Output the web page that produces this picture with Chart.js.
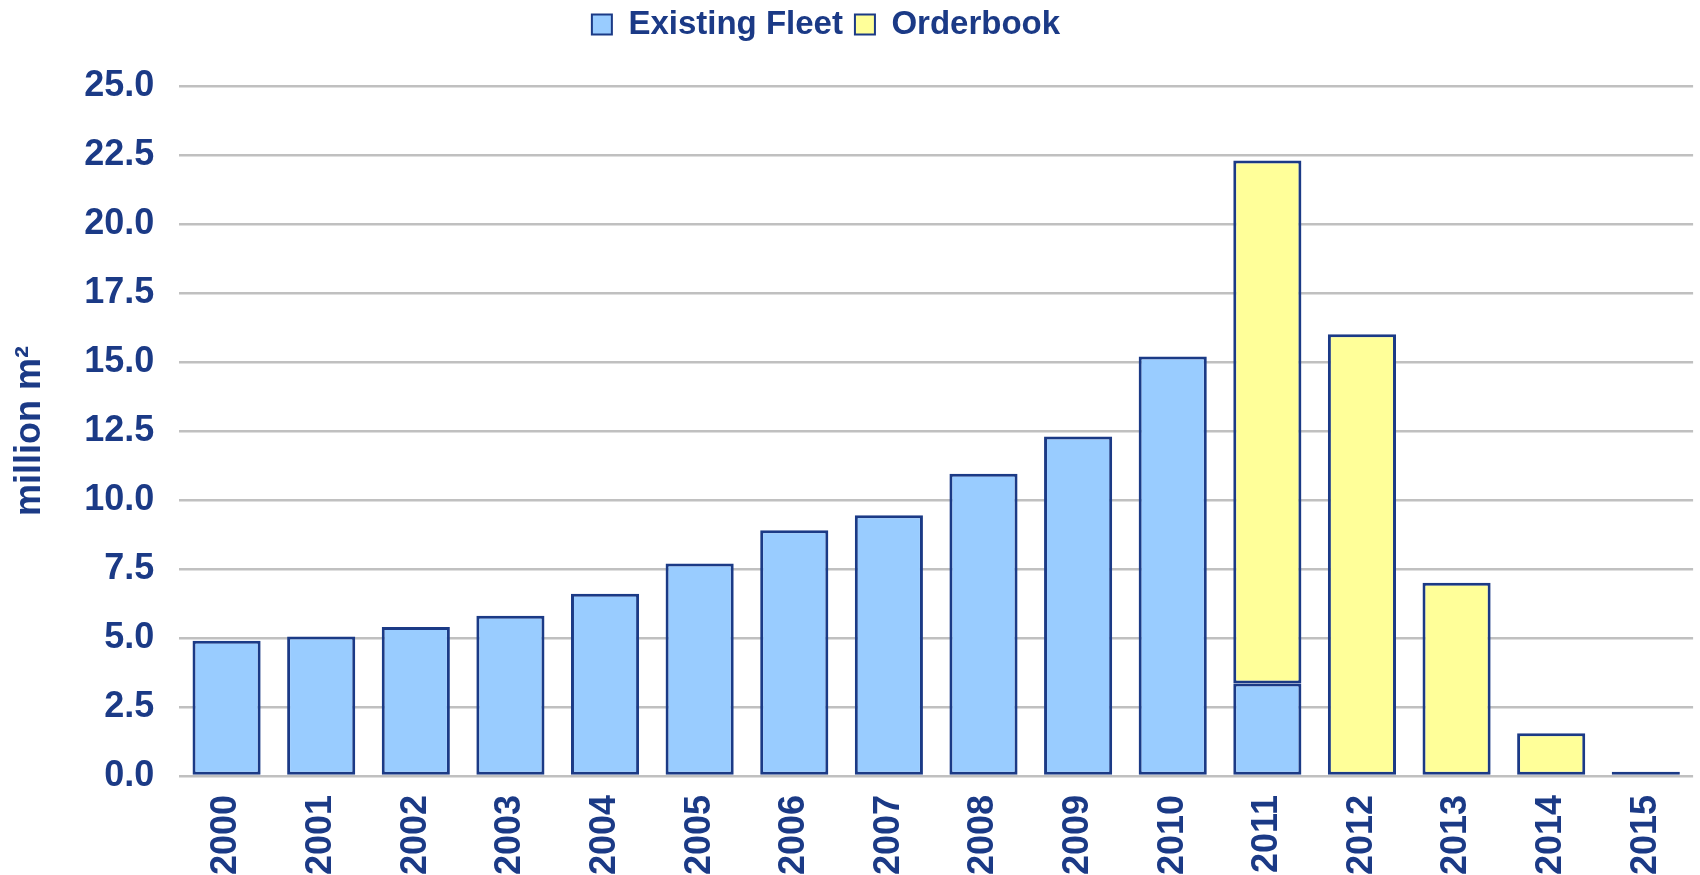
<!DOCTYPE html>
<html>
<head>
<meta charset="utf-8">
<script src="https://cdn.jsdelivr.net/npm/chart.js@4/dist/chart.umd.min.js"></script>
<style>
  html, body { margin: 0; padding: 0; background: #fff; }
  #wrap { width: 1700px; height: 875px; }
</style>
</head>
<body>
<div id="wrap"><canvas id="fleetChart"></canvas></div>
<script>
const years = ["2000", "2001", "2002", "2003", "2004", "2005", "2006", "2007",
  "2008", "2009", "2010", "2011", "2012", "2013", "2014", "2015"];
const existingFleet = [4.9, 5.05, 5.4, 5.8, 6.6, 7.7, 8.9, 9.45, 10.95, 12.3, 15.2, 3.35, 0, 0, 0, 0];
const orderbook = [0, 0, 0, 0, 0, 0, 0, 0, 0, 0, 0, 18.95, 16.0, 7.0, 1.55, 0.15];
const yTicks = [0, 2.5, 5, 7.5, 10, 12.5, 15, 17.5, 20, 22.5, 25];

const navy = "#1b3a86";
const family = "'Liberation Sans', Arial, sans-serif";
const axisFont = { family: family, weight: "bold", size: 36 };
const legendFont = { family: family, weight: "bold", size: 33 };

// push the plot area down below the legend, and nudge the legend up/left
const legendTweak = {
  id: "legendTweak",
  beforeInit(chart) {
    const legend = chart.legend;
    const fit = legend.fit;
    legend.fit = function () {
      fit.bind(legend)();
      this.height += 31;
    };
    const draw = legend.draw;
    legend.draw = function () {
      const c = chart.ctx;
      c.save();
      c.translate(-35, -4);
      draw.bind(legend)();
      c.restore();
    };
  },
};

const ctx = document.getElementById("fleetChart");

// eslint-disable-next-line no-undef
new Chart(ctx, {
  type: "bar",
  plugins: [legendTweak],
  data: {
    labels: years,
    datasets: [
      {
        label: "Existing Fleet",
        data: existingFleet,
        backgroundColor: "#99ccff",
        borderColor: navy,
        borderWidth: 3,
        borderSkipped: false,
      },
      {
        label: "Orderbook",
        data: orderbook,
        backgroundColor: "#ffff99",
        borderColor: navy,
        borderWidth: 3,
        borderSkipped: false,
      },
    ],
  },
  options: {
    responsive: true,
    maintainAspectRatio: false,
    animation: false,
    layout: { padding: { left: 8, right: -14, top: 0, bottom: -11 } },
    datasets: { bar: { categoryPercentage: 1, barPercentage: 0.72 } },
    plugins: {
      tooltip: { enabled: false },
      legend: {
        position: "top",
        labels: {
          color: navy,
          font: legendFont,
          boxWidth: 20,
          boxHeight: 20,
          padding: 12,
          generateLabels: (chart) =>
            chart.data.datasets.map((ds, i) => ({
              text: ds.label,
              fillStyle: ds.backgroundColor,
              strokeStyle: navy,
              lineWidth: 2,
              fontColor: navy,
              datasetIndex: i,
            })),
        },
      },
    },
    scales: {
      x: {
        stacked: true,
        grid: { display: false },
        border: { display: false },
        ticks: {
          color: navy,
          font: axisFont,
          minRotation: 90,
          maxRotation: 90,
          padding: 11,
        },
      },
      y: {
        stacked: true,
        min: 0,
        max: 25,
        afterBuildTicks: (axis) => {
          axis.ticks = yTicks.map((v) => ({ value: v }));
        },
        grid: { color: "#c0c0c0", lineWidth: 2.5, drawTicks: false },
        border: { display: false },
        ticks: {
          color: navy,
          font: axisFont,
          padding: 25,
          callback: (v) => Number(v).toFixed(1),
        },
        title: {
          display: true,
          text: "million m²",
          color: navy,
          font: axisFont,
          padding: { top: 0, bottom: 8 },
        },
      },
    },
  },
});
</script>
</body>
</html>
